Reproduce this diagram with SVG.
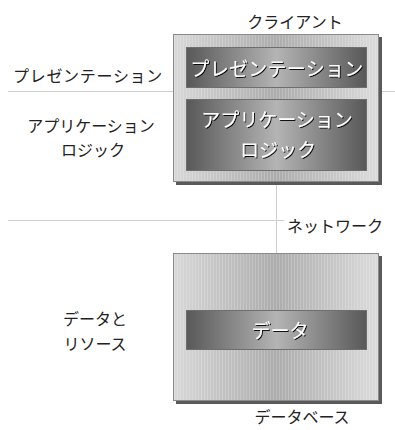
<svg xmlns="http://www.w3.org/2000/svg" width="395" height="430" viewBox="0 0 395 430">
<defs>
<linearGradient id="outer" x1="0" y1="0" x2="1" y2="0">
<stop offset="0" stop-color="#d8d8d8"/>
<stop offset="0.5" stop-color="#acacac"/>
<stop offset="1" stop-color="#dcdcdc"/>
</linearGradient>
<linearGradient id="inner" x1="0" y1="0" x2="1" y2="0">
<stop offset="0" stop-color="#585858"/>
<stop offset="0.5" stop-color="#b4b4b4"/>
<stop offset="1" stop-color="#585858"/>
</linearGradient>
<pattern id="stripes" width="3" height="10" patternUnits="userSpaceOnUse">
<rect x="0" y="0" width="1" height="10" fill="#ffffff" opacity="0.18"/>
</pattern>
<filter id="emboss" x="-10%" y="-30%" width="120%" height="160%">
<feDropShadow dx="1" dy="1" stdDeviation="0.3" flood-color="#000000" flood-opacity="0.9"/>
</filter>
<style>
.lbl{font-family:"Noto Sans CJK JP","Noto Sans",sans-serif;font-size:16px;fill:#222;text-anchor:middle}
.in{font-family:"Noto Sans CJK JP","Noto Sans",sans-serif;font-size:19px;fill:#ffffff;text-anchor:middle;filter:url(#emboss)}
.guide{stroke:#cfcfcf;stroke-width:1;fill:none}
.wire{stroke:#505050;stroke-width:1.2;fill:none}
.shadow{fill:#5a5a5a}
.obox{fill:url(#outer);stroke:#8a8a8a;stroke-width:1}
.ostripe{fill:url(#stripes)}
.ibox{fill:url(#inner);stroke:#6e6e6e;stroke-width:1}
</style>
</defs>
<g id="guides">
<line class="guide" x1="8" y1="91.5" x2="395" y2="91.5"/>
<line class="guide" x1="8" y1="220.5" x2="284" y2="220.5"/>
</g>
<g id="connectors">
<line class="guide" x1="276.5" y1="182" x2="276.5" y2="253"/>
<line class="wire" x1="276.5" y1="87" x2="276.5" y2="99"/>
<line class="wire" x1="276.5" y1="170" x2="276.5" y2="182"/>
<line class="wire" x1="276.5" y1="253" x2="276.5" y2="310"/>
</g>
<g id="client">
<rect class="shadow" x="176" y="37" width="206" height="148"/>
<rect class="obox" x="173.5" y="34.5" width="205" height="147"/>
<rect class="ostripe" x="174" y="35" width="204" height="146"/>
<text class="lbl" x="295" y="28" font-size="15">クライアント</text>
</g>
<g id="presentation">
<rect class="ibox" x="186.5" y="47.5" width="180" height="40"/>
<text class="in" x="277" y="76" letter-spacing="0.3">プレゼンテーション</text>
</g>
<g id="applogic">
<rect class="ibox" x="186.5" y="99.5" width="180" height="71"/>
<text class="in" x="277" y="127">アプリケーション</text>
<text class="in" x="278" y="157">ロジック</text>
</g>
<g id="database">
<rect class="shadow" x="176" y="256" width="206" height="148"/>
<rect class="obox" x="173.5" y="253.5" width="205" height="147"/>
<rect class="ostripe" x="174" y="254" width="204" height="146"/>
<text class="lbl" x="302" y="423" font-size="15.5">データベース</text>
</g>
<g id="data">
<rect class="ibox" x="186.5" y="310.5" width="180" height="39"/>
<text class="in" x="280" y="338">データ</text>
</g>
<g id="labels">
<text class="lbl" x="88" y="82" letter-spacing="0.7">プレゼンテーション</text>
<text class="lbl" x="91" y="132">アプリケーション</text>
<text class="lbl" x="93" y="156">ロジック</text>
<text class="lbl" x="95" y="325">データと</text>
<text class="lbl" x="95" y="350">リソース</text>
<text class="lbl" x="335" y="232" font-size="17">ネットワーク</text>
</g>
</svg>
